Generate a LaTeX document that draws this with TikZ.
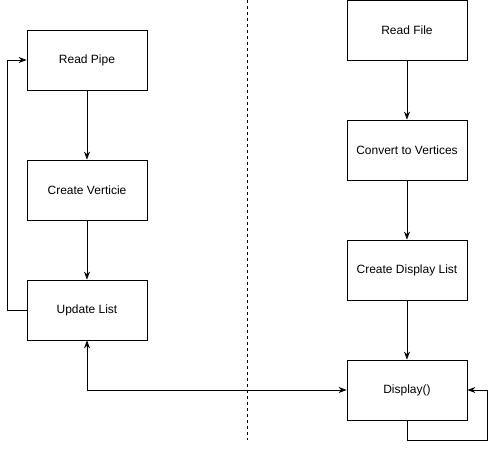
\documentclass[tikz,border=0pt]{standalone}
\usepackage{fontspec}
\setmainfont{Liberation Sans}
\usetikzlibrary{arrows.meta}

\begin{document}
\begin{tikzpicture}[x=1pt,y=-1pt,
    box/.style={draw,thick,minimum width=120pt,minimum height=60pt,inner sep=0pt,font=\fontsize{12}{14}\selectfont},
    arr/.style={thick,-{Stealth[length=8pt,width=6pt]}}]

      \useasboundingbox (0,0) rectangle (496,449);

      % left column
      \node[box] (pipe)   at (87,60)  {Read Pipe};
      \node[box] (vert)   at (87,190) {Create Verticie};
      \node[box] (update) at (87,310) {Update List};

      % right column
      \node[box] (file)    at (407,30)  {Read File};
      \node[box] (convert) at (407,150) {Convert to Vertices};
      \node[box] (dlist)   at (407,270) {Create Display List};
      \node[box] (display) at (407,390) {Display()};

      \draw[thick,dashed] (247,0) -- (247,440);

      \draw[arr] (pipe) -- (vert);
      \draw[arr] (vert) -- (update);
      \draw[arr] (update.west) -- (7,310) |- (pipe.west);

      \draw[arr] (file) -- (convert);
      \draw[arr] (convert) -- (dlist);
      \draw[arr] (dlist) -- (display);

      \draw[arr,{Stealth[length=8pt,width=6pt]}-{Stealth[length=8pt,width=6pt]}] (update.south) |- (display.west);
      \draw[arr] (display.south) -- (407,440) -- (487,440) |- (display.east);

    \end{tikzpicture}
\end{document}
